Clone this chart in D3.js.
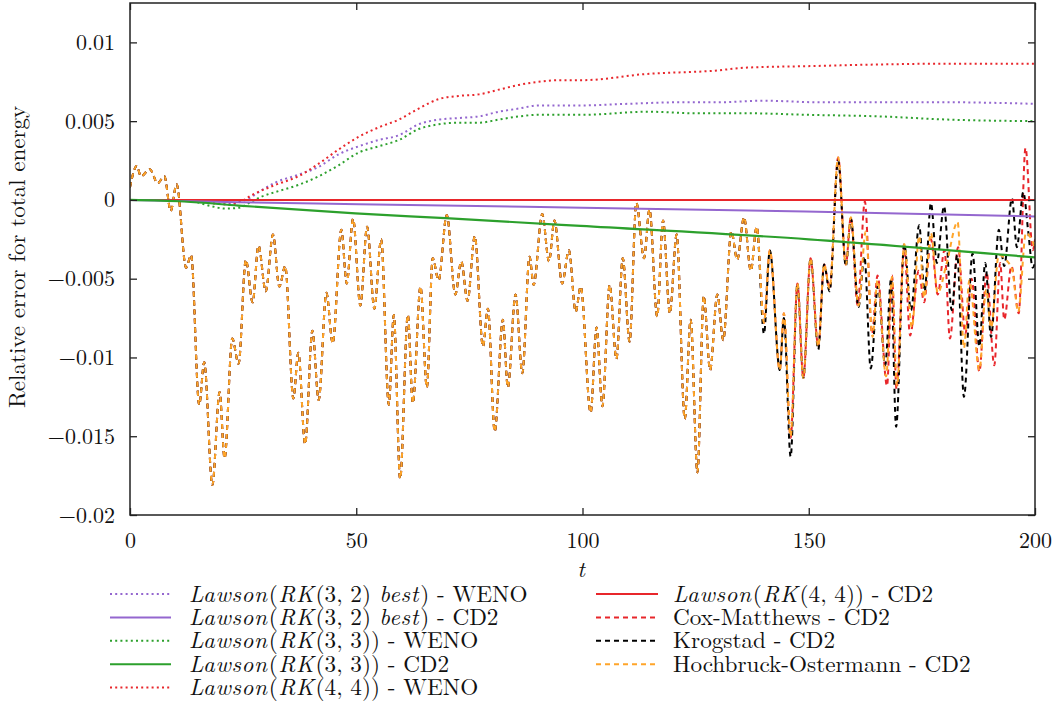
<!DOCTYPE html>
<html>
<head>
<meta charset="utf-8">
<script src="https://cdn.jsdelivr.net/npm/d3@7"></script>
<style>
  html, body { margin: 0; padding: 0; background: #fff; }
  svg { display: block; }
</style>
</head>
<body>
<svg id="chart" width="1053" height="704"></svg>
<script>
// ---------------- DATA ----------------
const xTickValues = [0, 50, 100, 150, 200];
const xTickLabels = ["0", "50", "100", "150", "200"];
const yTickValues = [-0.02, -0.015, -0.01, -0.005, 0, 0.005, 0.01];
const yTickLabels = ["\u22120.02", "\u22120.015", "\u22120.01", "\u22120.005", "0", "0.005", "0.01"];

// Lawson(RK(3,2) best) - WENO
const lawson32Weno = [[0,0],[10,0],[14,-0.00005],[18,-0.0002],[22,-0.00025],[24.5,-0.0001],[26.9,0.0002],[29,0.0006],[32.1,0.0011],[37.2,0.0016],[41.7,0.0021],[46.1,0.0029],[50.5,0.0034],[54.9,0.0038],[59.4,0.0041],[63.8,0.0048],[68.2,0.0051],[72.6,0.0052],[77.1,0.0053],[81.5,0.0056],[85.9,0.0058],[90.3,0.006],[94.8,0.006],[99.9,0.006],[110,0.0061],[121.7,0.0062],[130,0.0062],[140,0.0063],[152,0.0062],[165.9,0.0062],[180,0.0062],[200,0.0061]];
// Lawson(RK(3,2) best) - CD2
const lawson32Cd2 = [[0,0],[24,-0.00015],[50.5,-0.00027],[100,-0.0005],[149.3,-0.00074],[200,-0.00105]];
// Lawson(RK(3,3)) - WENO
const lawson33Weno = [[0,0],[10,0],[14,-0.0001],[18,-0.0004],[21,-0.00055],[24,-0.0005],[26.9,-0.0001],[29,0.0002],[32.1,0.0005],[37.2,0.00095],[41.7,0.0015],[46.1,0.0022],[50.5,0.003],[54.9,0.0034],[59.4,0.0038],[63.8,0.0045],[68.2,0.0048],[72.6,0.0049],[77.1,0.0049],[81.5,0.0051],[85.9,0.0053],[90.3,0.0054],[100,0.0054],[114.3,0.0056],[125,0.0055],[136.4,0.0055],[150,0.0054],[165.9,0.0053],[180.7,0.0051],[200,0.005]];
// Lawson(RK(3,3)) - CD2
const lawson33Cd2 = [[0,0],[12,-0.0001],[24,-0.00036],[49.8,-0.00085],[69.7,-0.00116],[99.6,-0.00165],[150,-0.0025],[200,-0.00365]];
// Lawson(RK(4,4)) - WENO
const lawson44Weno = [[0,0],[10,0],[14,-0.00005],[18,-0.0002],[22,-0.0003],[24.5,-0.0001],[26.9,0.0003],[32.1,0.00095],[37.2,0.0015],[41.7,0.0023],[46.1,0.0032],[50.5,0.004],[54.9,0.0046],[59.4,0.0051],[63.8,0.0058],[68.2,0.0064],[72.6,0.0066],[77.1,0.0067],[81.5,0.007],[85.9,0.0073],[90.3,0.0075],[94.8,0.0076],[99.9,0.0076],[114.3,0.008],[129,0.0082],[136.4,0.0084],[151.2,0.0085],[165.9,0.0086],[180.7,0.00865],[200,0.00865]];
// Lawson(RK(4,4)) - CD2
const lawson44Cd2 = [[0,0],[200,0]];

// Exponential schemes - CD2: the three curves coincide up to t ~ 139
const expSharedStart = [[0,0.0008],[1.5,0.00216],[2.4,0.0015],[4.4,0.00195],[6.1,0.00106],[7.6,0.0015],[9.0,-0.0007],[10.3,0.001],[12.4,-0.0043],[13.5,-0.0035],[15.3,-0.013],[16.4,-0.0103],[18.2,-0.0181],[19.8,-0.0122],[20.9,-0.0164],[22.6,-0.0088],[24.0,-0.0104],[25.6,-0.0038],[27.1,-0.0065],[28.4,-0.0029],[30.0,-0.0058],[31.6,-0.0022],[33.0,-0.0055],[34.3,-0.0042],[36.1,-0.0126],[37.2,-0.0097],[38.7,-0.0155],[40.3,-0.0083],[41.7,-0.0127],[43.4,-0.0059],[44.8,-0.0091],[46.7,-0.0019],[47.9,-0.0053],[49.3,-0.0012],[50.9,-0.0067],[52.4,-0.0017],[54.0,-0.0069],[55.5,-0.0025],[57.2,-0.013],[58.3,-0.0073],[59.7,-0.0177],[61.4,-0.0073],[62.5,-0.0129],[64.2,-0.0055],[65.6,-0.0119],[66.9,-0.0037],[68.2,-0.0051],[70.0,-0.00095],[71.9,-0.006],[73.2,-0.0039],[74.6,-0.0064],[76.2,-0.0023],[78.0,-0.0093],[79.1,-0.0069],[80.6,-0.0147],[82.4,-0.0076],[83.5,-0.0119],[85.2,-0.006],[86.7,-0.011],[88.3,-0.0036],[89.2,-0.0054],[91.1,-0.0009],[92.6,-0.0039],[93.8,-0.0013],[95.5,-0.0053],[97.0,-0.0032],[98.5,-0.0071],[99.6,-0.0055],[101.8,-0.0135],[103.1,-0.0081],[104.4,-0.0131],[106.0,-0.0054],[107.5,-0.0101],[108.9,-0.0037],[110.4,-0.009],[111.9,-0.0002],[113.6,-0.0037],[114.8,-0.0006],[116.5,-0.0074],[117.8,-0.0013],[119.3,-0.0072],[120.8,-0.0022],[122.6,-0.0139],[123.9,-0.0076],[125.4,-0.0173],[126.8,-0.0061],[128.2,-0.0108],[129.8,-0.006],[131.1,-0.0089],[132.9,-0.002],[134.2,-0.0038],[135.7,-0.0011],[137.2,-0.0045],[138.5,-0.0017]];
// Cox-Matthews - CD2 (after t ~ 139)
const coxMatthewsTail = [[140.1,-0.0078],[141.4,-0.0032],[143.6,-0.0108],[144.5,-0.0072],[146.0,-0.0151],[147.5,-0.0053],[148.8,-0.0113],[150.4,-0.0037],[152.1,-0.0093],[153.4,-0.0041],[154.6,-0.0056],[156.5,0.0027],[158.2,-0.0041],[159.3,-0.0011],[160.8,-0.0067],[162.4,-0.0001],[164.0,-0.0085],[165.2,-0.0048],[167.3,-0.0118],[168.4,-0.0048],[169.4,-0.012],[171.1,-0.003],[172.4,-0.0086],[174.3,-0.0045],[175.5,-0.0065],[177.0,-0.0025],[178.5,-0.006],[180.0,-0.0032],[181.2,-0.0088],[183.0,-0.003],[184.6,-0.0085],[186.0,-0.005],[187.7,-0.0109],[189.3,-0.0046],[191.0,-0.0105],[192.3,-0.004],[193.2,-0.0076],[194.8,-0.0042],[196.4,-0.0072],[197.9,0.0033],[199.5,-0.0032],[200,-0.0025]];
// Krogstad - CD2 (after t ~ 139)
const krogstadTail = [[140.1,-0.0085],[141.4,-0.0032],[143.6,-0.0108],[144.5,-0.0075],[146.0,-0.0163],[147.5,-0.0053],[148.8,-0.0113],[150.4,-0.0037],[152.1,-0.0095],[153.4,-0.0041],[154.6,-0.0058],[156.5,0.0025],[158.2,-0.0042],[159.3,-0.0012],[161.0,-0.0068],[162.3,-0.0036],[163.7,-0.0107],[165.3,-0.0055],[166.9,-0.0105],[168.2,-0.005],[169.3,-0.0144],[171.1,-0.0028],[172.6,-0.007],[174.4,-0.0016],[175.6,-0.0058],[177.0,-0.0002],[178.3,-0.004],[179.9,-0.0004],[181.6,-0.007],[182.8,-0.0035],[184.3,-0.0125],[186.2,-0.0034],[187.7,-0.0093],[189.0,-0.004],[190.3,-0.0087],[192.0,-0.0019],[193.2,-0.0042],[194.9,0.0001],[196.0,-0.003],[197.4,0.0005],[198.5,-0.002],[199.5,-0.0043],[200,-0.004]];
// Hochbruck-Ostermann - CD2 (after t ~ 139)
const hochbruckTail = [[140.1,-0.0078],[141.4,-0.0032],[143.6,-0.0108],[144.5,-0.0072],[146.0,-0.015],[147.5,-0.0053],[148.8,-0.0113],[150.4,-0.0037],[152.1,-0.0093],[153.4,-0.0041],[154.6,-0.0056],[156.5,0.0027],[158.2,-0.0041],[159.3,-0.0011],[161.0,-0.0067],[162.6,-0.002],[164.1,-0.0087],[165.2,-0.0051],[167.1,-0.0112],[168.4,-0.0049],[169.5,-0.0118],[171.1,-0.0028],[172.8,-0.0081],[174.4,-0.0023],[175.5,-0.0062],[177.0,-0.0021],[178.5,-0.0059],[180.5,-0.004],[182.9,-0.0014],[184.3,-0.0094],[185.5,-0.0051],[187.7,-0.0108],[189.2,-0.0057],[190.3,-0.0081],[192.0,-0.0035],[193.6,-0.0038],[195.0,-0.0045],[196.3,-0.0071],[198.0,-0.0021],[200,-0.003]];

// ---------------- FONT PICK (first installed serif face) ----------------
function pickFont(cands) {
  const ctx = document.createElement("canvas").getContext("2d");
  const s = "Relative error for total energy 0.005 WENO";
  const base = {};
  ["monospace", "sans-serif"].forEach(g => { ctx.font = "40px " + g; base[g] = ctx.measureText(s).width; });
  for (const c of cands) {
    let ok = true;
    for (const g of ["monospace", "sans-serif"]) {
      ctx.font = `40px "${c}", ${g}`;
      if (Math.abs(ctx.measureText(s).width - base[g]) < 0.5) { ok = false; break; }
    }
    if (ok) return `"${c}"`;
  }
  return "serif";
}
const FONT = pickFont(["Latin Modern Roman", "CMU Serif", "Computer Modern", "Liberation Serif", "Tinos",
  "Times New Roman", "DejaVu Serif", "Noto Serif", "FreeSerif", "Nimbus Roman", "Nimbus Roman No9 L", "TeX Gyre Termes", "C059", "P052"]);

// ---------------- RENDERING ----------------
const svg = d3.select("#chart").style("font-family", FONT);
const plot = {left: 130, right: 1035, top: 3, bottom: 515};
const x = d3.scaleLinear().domain([0, 200]).range([plot.left, plot.right]);
const y = d3.scaleLinear().domain([-0.02, 0.0125]).range([plot.bottom, plot.top]);

const col = {purple: "#9467cf", green: "#2ca02c", red: "#e8262b", black: "#000000", orange: "#ffa52a"};
const dotted = "2,3.2", dashed = "5,4";

const series = [
  {name: "l32w", data: lawson32Weno, color: col.purple, dash: dotted, w: 2},
  {name: "l33w", data: lawson33Weno, color: col.green, dash: dotted, w: 2},
  {name: "l44w", data: lawson44Weno, color: col.red, dash: dotted, w: 2},
  {name: "cox", data: expSharedStart.concat(coxMatthewsTail), color: col.red, dash: dashed, w: 2},
  {name: "krog", data: expSharedStart.concat(krogstadTail), color: col.black, dash: dashed, w: 2},
  {name: "hoch", data: expSharedStart.concat(hochbruckTail), color: col.orange, dash: dashed, w: 2},
  {name: "l44c", data: lawson44Cd2, color: col.red, dash: null, w: 2},
  {name: "l32c", data: lawson32Cd2, color: col.purple, dash: null, w: 2},
  {name: "l33c", data: lawson33Cd2, color: col.green, dash: null, w: 2.2},
];

svg.append("defs").append("clipPath").attr("id", "clip")
  .append("rect").attr("x", plot.left).attr("y", plot.top)
  .attr("width", plot.right - plot.left).attr("height", plot.bottom - plot.top);

const line = d3.line().x(d => x(d[0])).y(d => y(d[1])).curve(d3.curveMonotoneX);
const gLines = svg.append("g").attr("clip-path", "url(#clip)");
series.forEach(s => {
  gLines.append("path").datum(s.data)
    .attr("d", line)
    .attr("fill", "none")
    .attr("stroke", s.color)
    .attr("stroke-width", s.w)
    .attr("stroke-dasharray", s.dash)
    .attr("stroke-linejoin", "round");
});

// Axes (ticks inward on all four sides)
const fontSize = 22;
const axL = svg.append("g").attr("transform", `translate(${plot.left},0)`)
  .call(d3.axisLeft(y).tickValues(yTickValues).tickSizeInner(-7).tickSizeOuter(0).tickPadding(15)
    .tickFormat((d, i) => yTickLabels[i]));
const axR = svg.append("g").attr("transform", `translate(${plot.right},0)`)
  .call(d3.axisRight(y).tickValues(yTickValues).tickSizeInner(-7).tickSizeOuter(0).tickFormat(""));
const axB = svg.append("g").attr("transform", `translate(0,${plot.bottom})`)
  .call(d3.axisBottom(x).tickValues(xTickValues).tickSizeInner(-7).tickSizeOuter(0).tickPadding(17)
    .tickFormat((d, i) => xTickLabels[i]));
const axT = svg.append("g").attr("transform", `translate(0,${plot.top})`)
  .call(d3.axisTop(x).tickValues(xTickValues).tickSizeInner(-7).tickSizeOuter(0).tickFormat(""));
[axL, axR, axB, axT].forEach(a => {
  a.attr("font-family", null);
  a.select(".domain").remove();
  a.selectAll(".tick line").attr("stroke", "#222").attr("stroke-width", 1.3);
  a.selectAll("text").attr("font-size", fontSize).attr("fill", "#111");
});

svg.append("rect").attr("x", plot.left).attr("y", plot.top)
  .attr("width", plot.right - plot.left).attr("height", plot.bottom - plot.top)
  .attr("fill", "none").attr("stroke", "#222").attr("stroke-width", 1.5);

// Axis titles
svg.append("text").attr("transform", "translate(25,257) rotate(-90)")
  .attr("text-anchor", "middle").attr("font-size", 23).attr("fill", "#111")
  .text("Relative error for total energy");
svg.append("text").attr("x", 581).attr("y", 577).attr("text-anchor", "middle")
  .attr("font-size", 23).attr("font-style", "italic").attr("fill", "#111").text("t");

// Legend
const legendLeft = [
  {parts: [["Lawson", 1], ["(", 0], ["RK", 1], ["(3, 2) ", 0], ["best", 1], [") - WENO", 0]], color: col.purple, dash: dotted},
  {parts: [["Lawson", 1], ["(", 0], ["RK", 1], ["(3, 2) ", 0], ["best", 1], [") - CD2", 0]], color: col.purple, dash: null},
  {parts: [["Lawson", 1], ["(", 0], ["RK", 1], ["(3, 3)) - WENO", 0]], color: col.green, dash: dotted},
  {parts: [["Lawson", 1], ["(", 0], ["RK", 1], ["(3, 3)) - CD2", 0]], color: col.green, dash: null},
  {parts: [["Lawson", 1], ["(", 0], ["RK", 1], ["(4, 4)) - WENO", 0]], color: col.red, dash: dotted},
];
const legendRight = [
  {parts: [["Lawson", 1], ["(", 0], ["RK", 1], ["(4, 4)) - CD2", 0]], color: col.red, dash: null},
  {parts: [["Cox-Matthews - CD2", 0]], color: col.red, dash: dashed},
  {parts: [["Krogstad - CD2", 0]], color: col.black, dash: dashed},
  {parts: [["Hochbruck-Ostermann - CD2", 0]], color: col.orange, dash: dashed},
];
function drawLegend(items, x0, x1, tx, y0, dy) {
  items.forEach((it, i) => {
    const yy = y0 + i * dy;
    svg.append("line").attr("x1", x0).attr("x2", x1).attr("y1", yy).attr("y2", yy)
      .attr("stroke", it.color).attr("stroke-width", 2).attr("stroke-dasharray", it.dash);
    // each run of text is its own <text>, placed one after another
    let cx = tx;
    it.parts.forEach(p => {
      const t = svg.append("text").attr("x", cx).attr("y", yy + 7.5)
        .attr("font-size", 23.2).attr("fill", "#111")
        .attr("font-style", p[1] ? "italic" : "normal")
        .attr("letter-spacing", p[1] ? 0.6 : null)
        .attr("xml:space", "preserve")
        .style("white-space", "pre")
        .text(p[0]);
      cx += t.node().getComputedTextLength() + (p[1] ? 1.2 : 0.6);
    });
  });
}
drawLegend(legendLeft, 110, 171, 189, 594, 23.4);
drawLegend(legendRight, 596, 658, 673, 594, 23.4);
</script>
</body>
</html>
